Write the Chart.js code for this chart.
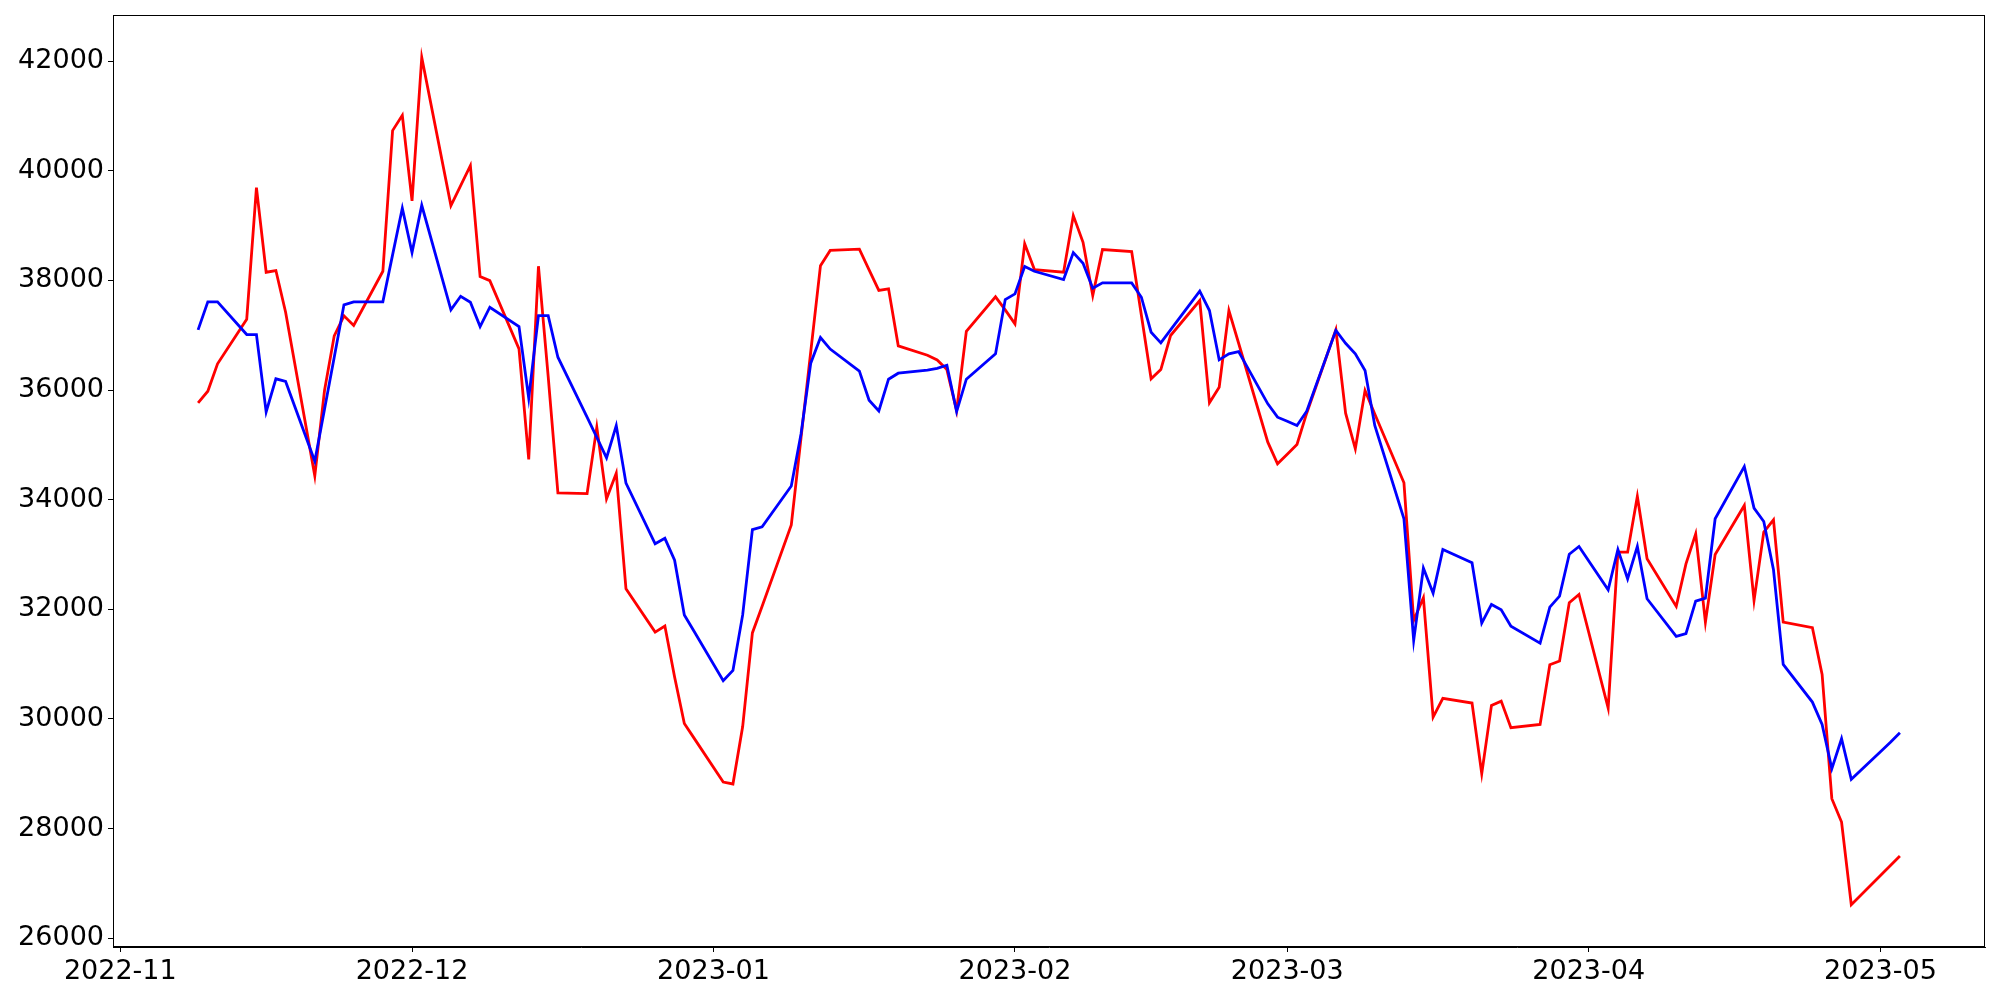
<!DOCTYPE html>
<html>
<head>
<meta charset="utf-8">
<script src="https://cdn.jsdelivr.net/npm/chart.js@4.4.0/dist/chart.umd.min.js"></script>
<style>
  html, body { margin: 0; padding: 0; background: #fff; }
  #wrap { width: 2000px; height: 1000px; }
</style>
</head>
<body>
<div id="wrap"><canvas id="chart" width="2000" height="1000"></canvas></div>
<script>
// Trading days (weekdays) shown in the chart
const dates = [
  "2022-11-09","2022-11-10","2022-11-11","2022-11-14","2022-11-15","2022-11-16","2022-11-17","2022-11-18",
  "2022-11-21","2022-11-22","2022-11-23","2022-11-24","2022-11-25","2022-11-28","2022-11-29","2022-11-30",
  "2022-12-01","2022-12-02","2022-12-05","2022-12-06","2022-12-07","2022-12-08","2022-12-09","2022-12-12",
  "2022-12-13","2022-12-14","2022-12-15","2022-12-16","2022-12-19","2022-12-20","2022-12-21","2022-12-22",
  "2022-12-23","2022-12-26","2022-12-27","2022-12-28","2022-12-29","2022-12-30",
  "2023-01-02","2023-01-03","2023-01-04","2023-01-05","2023-01-06","2023-01-09","2023-01-10","2023-01-11",
  "2023-01-12","2023-01-13","2023-01-16","2023-01-17","2023-01-18","2023-01-19","2023-01-20","2023-01-23",
  "2023-01-24","2023-01-25","2023-01-26","2023-01-27","2023-01-30","2023-01-31",
  "2023-02-01","2023-02-02","2023-02-03","2023-02-06","2023-02-07","2023-02-08","2023-02-09","2023-02-10",
  "2023-02-13","2023-02-14","2023-02-15","2023-02-16","2023-02-17","2023-02-20","2023-02-21","2023-02-22",
  "2023-02-23","2023-02-24","2023-02-27","2023-02-28",
  "2023-03-01","2023-03-02","2023-03-03","2023-03-06","2023-03-07","2023-03-08","2023-03-09","2023-03-10",
  "2023-03-13","2023-03-14","2023-03-15","2023-03-16","2023-03-17","2023-03-20","2023-03-21","2023-03-22",
  "2023-03-23","2023-03-24","2023-03-27","2023-03-28","2023-03-29","2023-03-30","2023-03-31",
  "2023-04-03","2023-04-04","2023-04-05","2023-04-06","2023-04-07","2023-04-10","2023-04-11","2023-04-12",
  "2023-04-13","2023-04-14","2023-04-17","2023-04-18","2023-04-19","2023-04-20","2023-04-21","2023-04-24",
  "2023-04-25","2023-04-26","2023-04-27","2023-04-28",
  "2023-05-01","2023-05-02","2023-05-03"
];

// Red series
const redValues = [
  35767, 35979, 36478, 37292, 39693, 38149, 38180, 37420,
  34436, 35992, 36989, 37354, 37177, 38167, 40733, 41012,
  39450, 42069, 39365, 39730, 40094, 38070, 37997, 36752,
  34734, 38259, 36250, 34126, 34110, 35323, 34016, 34484,
  32375, 31584, 31695, 30767, 29916, 29651,
  28849, 28814, 29861, 31570, 32058, 33539, 35129, 36699,
  38269, 38548, 38570, 38193, 37817, 37846, 36807, 36635,
  36549, 36374, 35627, 37073, 37700, 37463,
  37208, 38667, 38198, 38149, 39183, 38696, 37724, 38563,
  38526, 37365, 36205, 36374, 36995, 37633, 35767, 36052,
  37450, 36854, 35049, 34654,
  34830, 35007, 35578, 37100, 35578, 34928, 35992, 35563,
  34308, 31797, 32211, 30034, 30375, 30290, 29002, 30248,
  30326, 29841, 29901, 30990, 31056, 32120, 32272,
  30199, 33043, 33043, 34059, 32922, 32053, 32830, 33378,
  31767, 33001, 33895, 32162, 33408, 33633, 31767, 31666,
  30813, 28546, 28120, 26613,
  27145, 27323, 27500
];

// Blue series
const blueValues = [
  37098, 37609, 37609, 37013, 37013, 35603, 36205, 36156,
  34703, 35651, 36599, 37554, 37609, 37609, 38466, 39316,
  38508, 39371, 37463, 37711, 37602, 37159, 37511, 37159,
  35851, 37359, 37359, 36599, 35505, 35135, 34764, 35353,
  34301, 33196, 33295, 32897, 31898, 31599,
  30698, 30886, 31898, 33455, 33504, 34250, 35200, 36491,
  36958, 36748, 36347, 35813, 35618, 36198, 36307, 36365,
  36395, 36453, 35608, 36198, 36660, 37651,
  37755, 38253, 38167, 38016, 38508, 38313, 37857, 37955,
  37955, 37693, 37055, 36861, 37098, 37806, 37450, 36551,
  36661, 36703, 35749, 35505,
  35432, 35353, 35614, 37090, 36854, 36661, 36356, 35353,
  33652, 31433, 32751, 32295, 33092, 32849, 31748, 32089,
  31992, 31694, 31382, 32040, 32241, 33005, 33147,
  32357, 33092, 32558, 33147, 32193, 31506, 31555, 32150,
  32205, 33652, 34606, 33846, 33603, 32722, 30995, 30308,
  29901, 29093, 29640, 28898,
  29403, 29570, 29750
];

// Axis ticks
const xTickDates = ["2022-11-01","2022-12-01","2023-01-01","2023-02-01","2023-03-01","2023-04-01","2023-05-01"];
const xTickLabels = ["2022-11","2022-12","2023-01","2023-02","2023-03","2023-04","2023-05"];
const yTicks = [26000, 28000, 30000, 32000, 34000, 36000, 38000, 40000, 42000];

// date string -> day number
function dayNum(s) {
  const [y, m, d] = s.split("-").map(Number);
  return Date.UTC(y, m - 1, d) / 86400000;
}

const xs = dates.map(dayNum);
const xTickVals = xTickDates.map(dayNum);
const span = xs[xs.length - 1] - xs[0];
const xMin = xs[0] - span * 0.05;
const xMax = xs[xs.length - 1] + span * 0.05;

const yLo = Math.min(...redValues, ...blueValues);
const yHi = Math.max(...redValues, ...blueValues);
const yMin = yLo - (yHi - yLo) * 0.05;
const yMax = yHi + (yHi - yLo) * 0.05;

const redData = xs.map((x, i) => ({ x, y: redValues[i] }));
const blueData = xs.map((x, i) => ({ x, y: blueValues[i] }));

// box around plot area like matplotlib spines
const frame = {
  id: "frame",
  afterDraw(chart) {
    const a = chart.chartArea;
    const ctx = chart.ctx;
    ctx.save();
    ctx.strokeStyle = "#000";
    ctx.lineWidth = 1;
    ctx.strokeRect(a.left + 0.5, a.top + 0.5, a.right - a.left - 1, a.bottom - a.top - 1);
    ctx.restore();
  }
};

const tickFont = { family: "'DejaVu Sans', sans-serif", size: 27 };

new Chart(document.getElementById("chart").getContext("2d"), {
  type: "line",
  data: {
    datasets: [
      { data: redData, borderColor: "#ff0000", borderWidth: 2.8, pointRadius: 0, tension: 0, order: 2 },
      { data: blueData, borderColor: "#0000ff", borderWidth: 2.8, pointRadius: 0, tension: 0, order: 1 }
    ]
  },
  options: {
    responsive: false,
    animation: false,
    layout: { padding: { top: 15, right: 15, left: 0, bottom: 0 } },
    plugins: { legend: { display: false }, tooltip: { enabled: false } },
    scales: {
      x: {
        type: "linear",
        min: xMin,
        max: xMax,
        afterBuildTicks: scale => { scale.ticks = xTickVals.map(v => ({ value: v })); },
        afterFit: scale => {
          scale.height = 53;
          scale.paddingLeft = 0;
          scale.paddingRight = 0;
        },
        grid: { drawOnChartArea: false, drawTicks: true, tickLength: 5, tickColor: "#000" },
        border: { display: true, color: "#000", width: 1 },
        ticks: {
          color: "#000",
          font: tickFont,
          padding: 4,
          maxRotation: 0,
          autoSkip: false,
          callback: v => xTickLabels[xTickVals.indexOf(v)]
        }
      },
      y: {
        min: yMin,
        max: yMax,
        afterBuildTicks: scale => { scale.ticks = yTicks.map(v => ({ value: v })); },
        afterFit: scale => {
          scale.width = 113;
          scale.paddingTop = 0;
          scale.paddingBottom = 0;
        },
        grid: { drawOnChartArea: false, drawTicks: true, tickLength: 5, tickColor: "#000" },
        border: { display: true, color: "#000", width: 1 },
        ticks: {
          color: "#000",
          font: tickFont,
          padding: 4,
          autoSkip: false,
          callback: v => String(v)
        }
      }
    }
  },
  plugins: [frame]
});
</script>
</body>
</html>
